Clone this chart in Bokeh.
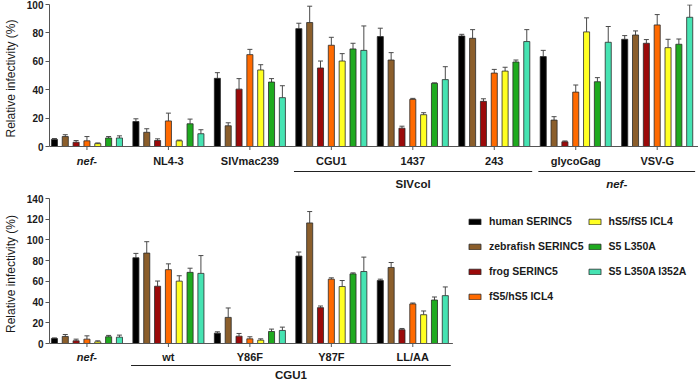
from bokeh.plotting import figure
from bokeh.models import (Range1d, FixedTicker, Whisker, TeeHead, ColumnDataSource,
                          Legend, LegendItem)
from bokeh.core.properties import value
from bokeh.layouts import column
from bokeh.embed import file_html
from bokeh.resources import INLINE

FONT = "Liberation Sans"

series = ["human SERINC5", "zebrafish SERINC5", "frog SERINC5", "fS5/hS5 ICL4",
          "hS5/fS5 ICL4", "S5 L350A", "S5 L350A I352A"]
colors = ["#000000", "#8B5E2B", "#9B0A0A", "#FF6A00", "#FFFF22", "#1FAA1F", "#46E3B2"]

# ---------------- top panel ----------------
top_groups = ["nef-", "NL4-3", "SIVmac239", "CGU1", "1437", "243", "glycoGag", "VSV-G"]
top_human = [5.0, 17.6, 48.0, 83.0, 77.4, 77.8, 63.3, 75.5]
top_human_err = [0.6, 1.9, 4.0, 3.8, 5.9, 1.2, 4.4, 2.6]
top_zebra = [7.0, 10.0, 14.6, 87.3, 60.9, 76.2, 18.6, 78.5]
top_zebra_err = [1.3, 2.5, 2.1, 11.5, 5.2, 6.1, 2.4, 2.9]
top_frog = [3.0, 4.2, 40.4, 55.3, 12.9, 31.8, 3.3, 72.7]
top_frog_err = [1.2, 1.2, 7.4, 4.9, 1.4, 1.8, 0.6, 2.6]
top_fs5 = [4.0, 18.0, 64.7, 71.3, 33.2, 51.7, 38.3, 85.6]
top_fs5_err = [3.0, 5.5, 3.7, 5.6, 0.7, 2.6, 5.0, 7.3]
top_hs5 = [2.0, 4.0, 53.9, 60.2, 22.4, 53.1, 80.7, 69.6]
top_hs5_err = [0.5, 0.5, 3.7, 5.2, 1.4, 2.7, 9.9, 5.9]
top_l350a = [6.0, 16.0, 45.4, 68.7, 44.5, 59.5, 45.6, 72.0]
top_l350a_err = [1.0, 3.3, 2.4, 4.0, 0.3, 1.4, 2.9, 3.7]
top_i352a = [6.0, 9.0, 34.4, 67.7, 47.1, 73.9, 73.4, 91.0]
top_i352a_err = [1.5, 2.8, 8.4, 17.2, 9.1, 8.4, 11.1, 8.7]
top_yticks = [0, 20, 40, 60, 80, 100]
# group brackets of the top panel: (first group, last group, label)
top_brackets = [(3, 5, "SIVcol"), (6, 7, "nef-")]

# ---------------- bottom panel ----------------
bot_groups = ["nef-", "wt", "Y86F", "Y87F", "LL/AA"]
bot_human = [4.8, 82.8, 10.0, 84.4, 60.8]
bot_human_err = [0.6, 4.2, 1.3, 3.9, 1.3]
bot_zebra = [6.8, 87.3, 25.2, 116.4, 73.4]
bot_zebra_err = [1.9, 11.0, 9.1, 11.0, 4.8]
bot_frog = [2.6, 55.3, 7.1, 34.6, 13.3]
bot_frog_err = [1.6, 5.0, 2.6, 1.6, 1.2]
bot_fs5 = [4.2, 71.3, 4.5, 62.1, 38.2]
bot_fs5_err = [3.2, 5.6, 2.0, 1.3, 0.9]
bot_hs5 = [1.6, 60.2, 3.2, 55.0, 27.8]
bot_hs5_err = [1.0, 5.2, 1.3, 5.8, 3.6]
bot_l350a = [6.5, 68.7, 11.6, 67.2, 42.0]
bot_l350a_err = [1.3, 4.0, 2.3, 1.0, 2.9]
bot_i352a = [6.1, 67.7, 12.6, 69.5, 46.2]
bot_i352a_err = [2.0, 17.2, 3.2, 13.9, 8.4]
bot_yticks = [0, 20, 40, 60, 80, 100, 120, 140]
bot_brackets = [(1, 4, "CGU1")]

top_vals = [top_human, top_zebra, top_frog, top_fs5, top_hs5, top_l350a, top_i352a]
top_errs = [top_human_err, top_zebra_err, top_frog_err, top_fs5_err, top_hs5_err,
            top_l350a_err, top_i352a_err]
bot_vals = [bot_human, bot_zebra, bot_frog, bot_fs5, bot_hs5, bot_l350a, bot_i352a]
bot_errs = [bot_human_err, bot_zebra_err, bot_frog_err, bot_fs5_err, bot_hs5_err,
            bot_l350a_err, bot_i352a_err]

W = 698
LB = 42       # left border (room for y axis)
BAR_PX = 10.95
GP = 7.52     # group pitch in bar units
BW = 0.56     # bar width
X0 = -5 / BAR_PX
XR = Range1d(X0, X0 + (W - LB) / BAR_PX)
AX = "#555555"
TXT = "#1a1a1a"
PAD = 6       # px of frame below the zero line


def make_panel(groups, vals, errs, ymax, yticks, frame_h, top_b, axis_end):
    pxu = frame_h / ymax
    p = figure(width=W, height=top_b + frame_h + PAD, output_backend="svg",
               toolbar_location=None, x_range=XR, y_range=Range1d(-PAD / pxu, ymax),
               x_axis_type=None, min_border_top=top_b, min_border_bottom=0,
               min_border_left=LB, min_border_right=0)
    p.outline_line_color = None
    p.ygrid.visible = False
    renderers = []
    for si, (name, col) in enumerate(zip(series, colors)):
        xs = [g * GP + si for g in range(len(groups))]
        src = ColumnDataSource(dict(x=xs, top=vals[si],
                                    upper=[v + e for v, e in zip(vals[si], errs[si])]))
        w = Whisker(source=src, base="x", lower="top", upper="upper", dimension="height",
                    line_color="#4a4a4a", line_width=1, lower_head=None,
                    upper_head=TeeHead(size=5, line_color="#4a4a4a", line_width=1))
        p.add_layout(w)
        r = p.vbar(x="x", top="top", bottom=0, width=BW, source=src, fill_color=col,
                   line_color="#2a2a2a", line_width=0.8)
        renderers.append(r)
    # x axis line at zero with small ticks under each group centre
    centers = [g * GP + 3 for g in range(len(groups))]
    p.segment(x0=[XR.start], x1=[axis_end], y0=[0], y1=[0], line_color=AX, line_width=1)
    p.segment(x0=centers, x1=centers, y0=[0] * len(centers),
              y1=[-3.5 / pxu] * len(centers), line_color=AX, line_width=1)
    ay = p.yaxis[0]
    ay.ticker = FixedTicker(ticks=yticks)
    ay.bounds = (0, ymax)
    ay.minor_tick_line_color = None
    ay.major_tick_out = 4
    ay.major_tick_in = 0
    ay.axis_line_color = AX
    ay.major_tick_line_color = AX
    ay.major_label_text_font = FONT
    ay.major_label_text_font_style = "bold"
    ay.major_label_text_font_size = "10px"
    ay.major_label_text_color = TXT
    ay.major_label_standoff = 2
    ay.axis_label = "Relative infectivity (%)"
    ay.axis_label_text_font = FONT
    ay.axis_label_text_font_style = "normal"
    ay.axis_label_text_font_size = "12px"
    ay.axis_label_text_color = TXT
    ay.axis_label_standoff = 6
    return p, renderers


def make_labels(groups, brackets, height, y_lab, y_br, y_grp):
    # strip under a panel: 1 data unit in y == 1 pixel (0 at top edge)
    f = figure(width=W, height=height, output_backend="svg", toolbar_location=None,
               x_range=XR, y_range=Range1d(-height, 0), x_axis_type=None, y_axis_type=None,
               min_border_top=0, min_border_bottom=0, min_border_left=LB, min_border_right=0)
    f.outline_line_color = None
    centers = [g * GP + 3 for g in range(len(groups))]
    styles = ["bold italic" if g == "nef-" else "bold" for g in groups]
    f.text(x=centers, y=[-y_lab] * len(groups), text=groups, text_font_style=styles,
           text_align="center", text_baseline="middle", text_font=value(FONT),
           text_font_size="11px", text_color=TXT)
    x0 = [b[0] * GP - 0.45 for b in brackets]
    x1 = [b[1] * GP + 6 + 0.5 for b in brackets]
    f.segment(x0=x0, x1=x1, y0=[-y_br] * len(brackets), y1=[-y_br] * len(brackets),
              line_color="#222222", line_width=1.2)
    names = [b[2] for b in brackets]
    bstyles = ["bold italic" if n == "nef-" else "bold" for n in names]
    f.text(x=[(a + b) / 2 for a, b in zip(x0, x1)], y=[-y_grp] * len(brackets),
           text=names, text_font_style=bstyles, text_align="center",
           text_baseline="middle", text_font=value(FONT), text_font_size="11.5px",
           text_color=TXT)
    return f


p1, r1 = make_panel(top_groups, top_vals, top_errs, 100, top_yticks, 142, 4, XR.end)
l1 = make_labels(top_groups, top_brackets, 40, 8, 19, 31)

p2, r2 = make_panel(bot_groups, bot_vals, bot_errs, 140, bot_yticks, 145, 6,
                    4 * GP + 6 + 0.7)
l2 = make_labels(bot_groups, bot_brackets, 31, 7, 16, 25.5)

legend = Legend(items=[LegendItem(label=s, renderers=[r]) for s, r in zip(series, r2)],
                location=(418, 42), orientation="vertical", nrows=4,
                label_text_font=FONT, label_text_font_size="10.5px",
                label_text_font_style="bold", label_text_color=TXT,
                glyph_width=15, glyph_height=7, label_standoff=7, spacing=3,
                label_height=22, padding=0, margin=0, border_line_color=None,
                background_fill_alpha=0)
p2.add_layout(legend)

layout = column(p1, l1, p2, l2, spacing=0)
open("out.html", "w").write(file_html(layout, INLINE))
